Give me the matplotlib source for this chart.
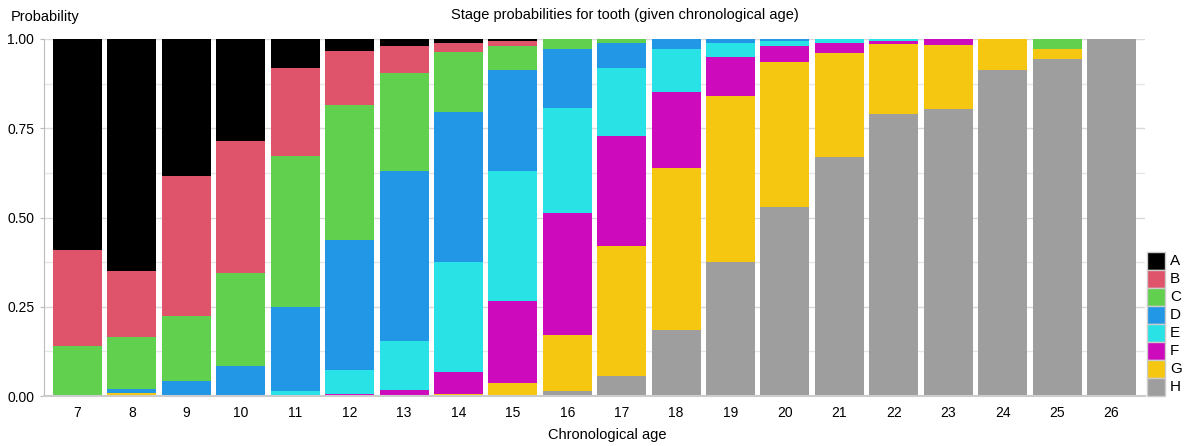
import matplotlib
matplotlib.use("Agg")
import matplotlib.pyplot as plt
import numpy as np
from matplotlib.patches import Rectangle

plt.rcParams['font.family'] = ['Liberation Sans', 'DejaVu Sans']

ages = [7, 8, 9, 10, 11, 12, 13, 14, 15, 16, 17, 18, 19, 20, 21, 22, 23, 24, 25, 26]
stages = ["A", "B", "C", "D", "E", "F", "G", "H"]
colors = ["#000000", "#DF536B", "#61D04F", "#2297E6", "#28E2E5", "#CD0BBC", "#F5C710", "#9E9E9E"]

# stacked bottom -> top: H, G, F, E, D, C, B, A
H = [0, 0, 0, 0, 0, 0, 0, 0, 0.003, 0.015, 0.056, 0.185, 0.375, 0.53, 0.67, 0.79, 0.804, 0.912, 0.944, 1.0]
G = [0, 0.008, 0, 0, 0, 0, 0, 0.005, 0.033, 0.156, 0.364, 0.454, 0.465, 0.405, 0.292, 0.196, 0.178, 0.088, 0.027, 0]
F = [0, 0, 0, 0, 0.003, 0.007, 0.016, 0.063, 0.23, 0.342, 0.308, 0.212, 0.11, 0.046, 0.026, 0.007, 0.018, 0, 0, 0]
E = [0, 0, 0.002, 0.004, 0.01, 0.066, 0.137, 0.307, 0.364, 0.295, 0.192, 0.122, 0.04, 0.013, 0.012, 0.007, 0, 0, 0, 0]
D = [0, 0.011, 0.041, 0.081, 0.237, 0.363, 0.477, 0.42, 0.282, 0.164, 0.07, 0.027, 0.01, 0.006, 0, 0, 0, 0, 0, 0]
C = [0.14, 0.146, 0.182, 0.26, 0.422, 0.379, 0.276, 0.169, 0.069, 0.028, 0.01, 0, 0, 0, 0, 0, 0, 0, 0.029, 0]
B = [0.27, 0.185, 0.39, 0.37, 0.248, 0.15, 0.074, 0.026, 0.012, 0, 0, 0, 0, 0, 0, 0, 0, 0, 0, 0]
A = [0.59, 0.65, 0.385, 0.285, 0.08, 0.035, 0.02, 0.01, 0.007, 0, 0, 0, 0, 0, 0, 0, 0, 0, 0, 0]

series = {"A": A, "B": B, "C": C, "D": D, "E": E, "F": F, "G": G, "H": H}

W, Hpx = 1184, 446
fig = plt.figure(figsize=(W/100, Hpx/100), dpi=100)
ax = fig.add_axes([44/W, 1-396/Hpx, (1145-44)/W, (396-39)/Hpx])

x = np.arange(len(ages))
bottom = np.zeros(len(ages))
for st in ["H", "G", "F", "E", "D", "C", "B", "A"]:
    vals = np.array(series[st])
    ax.bar(x, vals, bottom=bottom, width=0.9, color=colors[stages.index(st)],
           edgecolor='none', linewidth=0, zorder=2)
    bottom += vals

ax.set_xlim(-0.616, len(ages) - 1 + 0.616)
ax.set_ylim(0, 1)
ax.set_yticks([0, 0.25, 0.5, 0.75, 1.0])
ax.set_yticklabels(["0.00", "0.25", "0.50", "0.75", "1.00"], fontsize=10)
ax.set_yticks([0.125, 0.375, 0.625, 0.875], minor=True)
ax.set_xticks(x)
ax.set_xticklabels([str(a) for a in ages], fontsize=10)
ax.tick_params(axis='x', length=0, pad=7)
ax.tick_params(axis='y', which='major', length=3, color='#BBBBBB', pad=4)
ax.tick_params(axis='y', which='minor', length=0)
ax.grid(True, axis='y', which='major', color='#D9D9D9', linewidth=1, zorder=0)
ax.grid(True, axis='y', which='minor', color='#E6E6E6', linewidth=1, zorder=0)
ax.set_axisbelow(True)
for s in ['top', 'right']:
    ax.spines[s].set_visible(False)
ax.spines['left'].set_color('#BBBBBB')
ax.spines['bottom'].set_color('#CCCCCC')
ax.spines['bottom'].set_linewidth(1.5)

fig.text(625/W, 1-15/Hpx, "Stage probabilities for tooth (given chronological age)",
         ha='center', va='center', fontsize=10.5)
fig.text(11/W, 1-17/Hpx, "Probability", ha='left', va='center', fontsize=10.5)
fig.text(607/W, 1-435/Hpx, "Chronological age", ha='center', va='center', fontsize=10.5)

# legend: stacked swatches
lx0, lx1 = 1147, 1165
ltop = 252.3
row = 17.9
for i, st in enumerate(stages):
    y_top = ltop + i * row
    fig.add_artist(Rectangle((lx0/W, 1-(y_top+row)/Hpx), (lx1-lx0)/W, row/Hpx,
                             transform=fig.transFigure, facecolor=colors[i],
                             edgecolor='#CCCCCC', linewidth=1))
    fig.text(1170/W, 1-(y_top+row/2)/Hpx, st, ha='left', va='center', fontsize=11)

fig.savefig("out.png", dpi=100)
